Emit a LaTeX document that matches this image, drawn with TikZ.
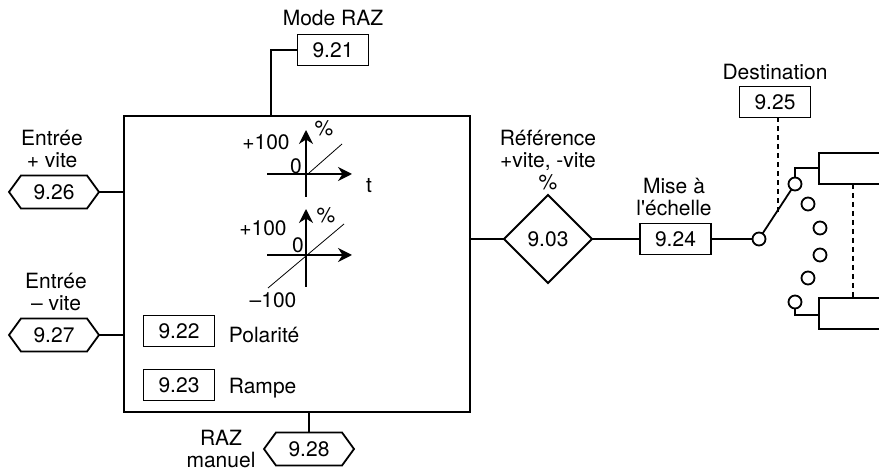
\documentclass[tikz,border=0pt]{standalone}
\usepackage{fontspec}
\newfontfamily\schemafont{TeX Gyre Heros}
\usetikzlibrary{shapes.geometric, shapes.symbols, arrows.meta}
\tikzset{
    lbl/.style={font=\schemafont\fontsize{21}{22}\selectfont, inner sep=0pt, align=center},
    parbox/.style={draw, lbl, minimum width=71pt, minimum height=31pt, outer sep=0pt},
    hexa/.style={draw, lbl, shape=signal, signal to=west and east, signal pointer angle=108,
        minimum width=90pt, minimum height=33pt, outer sep=0pt},
    plot/.style={line width=1.8pt, -{Stealth[length=14pt, width=14pt]}},
    contact/.style={draw, circle, fill=white, minimum size=13pt, inner sep=0pt, outer sep=0pt},
    tirets/.style={dash pattern=on 5pt off 4pt},
}
\begin{document}
\begin{tikzpicture}[x=1pt, y=-1pt, line width=1.8pt]
    \useasboundingbox (0,0) rectangle (879,470);

    % --- Bloc principal ---
    \node[draw, minimum width=346pt, minimum height=296pt, outer sep=0pt] (main) at (297,264) {};

    % --- Mode RAZ ---
    \node[lbl] (modelbl) at (333,18) {Mode RAZ};
    \node[parbox] (p921) at (333,50) {9.21};
    \coordinate (modein) at (271,116);
    \draw (p921.west) -| (modein);

    % --- Entrees ---
    \node[lbl] (plusin) at (52,149) {Entrée\\+ vite};
    \node[hexa] (p926) at (54,192) {9.26};
    \draw (p926.east) -- (p926.east -| main.west);

    \node[lbl] (minusin) at (56,292) {Entrée\\– vite};
    \node[hexa] (p927) at (54,335) {9.27};
    \draw (p927.east) -- (p927.east -| main.west);

    \node[lbl] (razlbl) at (221,449) {RAZ\\manuel};
    \node[hexa] (p928) at (309,449) {9.28};
    \draw (p928.north) -- (p928.north |- main.south);

    % --- Courbe du haut ---
    \coordinate (o1) at (306,174);
    \draw[plot] (267,174) -- (352,174);
    \draw[plot] (306,197) -- (306,130);
    \draw[line width=0.8pt] (o1) ++(3,-1) -- (342,144);
    \node[lbl] (c1max) at (266,142) {+100};
    \node[lbl] (c1zero) at (296,166) {0};
    \node[lbl] (c1pct) at (324,128) {\%};
    \node[lbl] (c1t) at (369,186) {t};

    % --- Courbe du bas ---
    \coordinate (o2) at (306,255);
    \draw[plot] (267,255) -- (352,255);
    \draw[plot] (306,287) -- (306,209);
    \draw[line width=0.8pt] (268,288) -- (344,224);
    \node[lbl] (c2max) at (263,228) {+100};
    \node[lbl] (c2zero) at (298,245) {0};
    \node[lbl] (c2pct) at (326,215) {\%};
    \node[lbl] (c2min) at (273,300) {–100};

    % --- Parametres internes ---
    \node[parbox] (p922) at (179,331) {9.22};
    \node[lbl, right] (pol) at (228,335) {Polarité};
    \node[parbox] (p923) at (179,385) {9.23};
    \node[lbl, right] (ramp) at (228,388) {Rampe};

    % --- Reference et mise a l'echelle ---
    \node[lbl] (reflbl) at (548,160) {Référence\\+vite, -vite\\\%};
    \node[draw, lbl, diamond, minimum width=88pt, minimum height=88pt, outer sep=0pt] (p903) at (548,239) {9.03};
    \node[lbl] (scalelbl) at (674,197) {Mise à\\l'échelle};
    \node[parbox] (p924) at (675.5,239) {9.24};
    \draw (main.east |- p903) -- (p903.west);
    \draw (p903.east) -- (p924.west);

    % --- Selecteur ---
    \node[lbl] (destlbl) at (775,72) {Destination};
    \node[parbox] (p925) at (775,102) {9.25};
    \node[contact] (sw) at (759,239) {};
    \node[contact] (k1) at (795,184) {};
    \node[contact] (k2) at (808,204) {};
    \node[contact] (k3) at (820,228) {};
    \node[contact] (k4) at (820,255) {};
    \node[contact] (k5) at (808,278) {};
    \node[contact] (k6) at (795,302) {};
    \draw (p924.east) -- (sw);
    \draw (sw) -- (k1);
    \coordinate (swmid) at (778,212);
    \draw[tirets] (p925.south -| swmid) -- (swmid);

    % --- Destinations (coupees par le bord) ---
    \coordinate (d1) at (819,168);
    \coordinate (d2) at (819,315);
    \draw (879,153) -- (819,153) -- (819,184) -- (879,184);
    \draw (879,298) -- (819,298) -- (819,329) -- (879,329);
    \draw (k1.north) |- (d1);
    \draw (k6.south) |- (d2);
    \draw[tirets] (853,184) -- (853,298);
\end{tikzpicture}
\end{document}
